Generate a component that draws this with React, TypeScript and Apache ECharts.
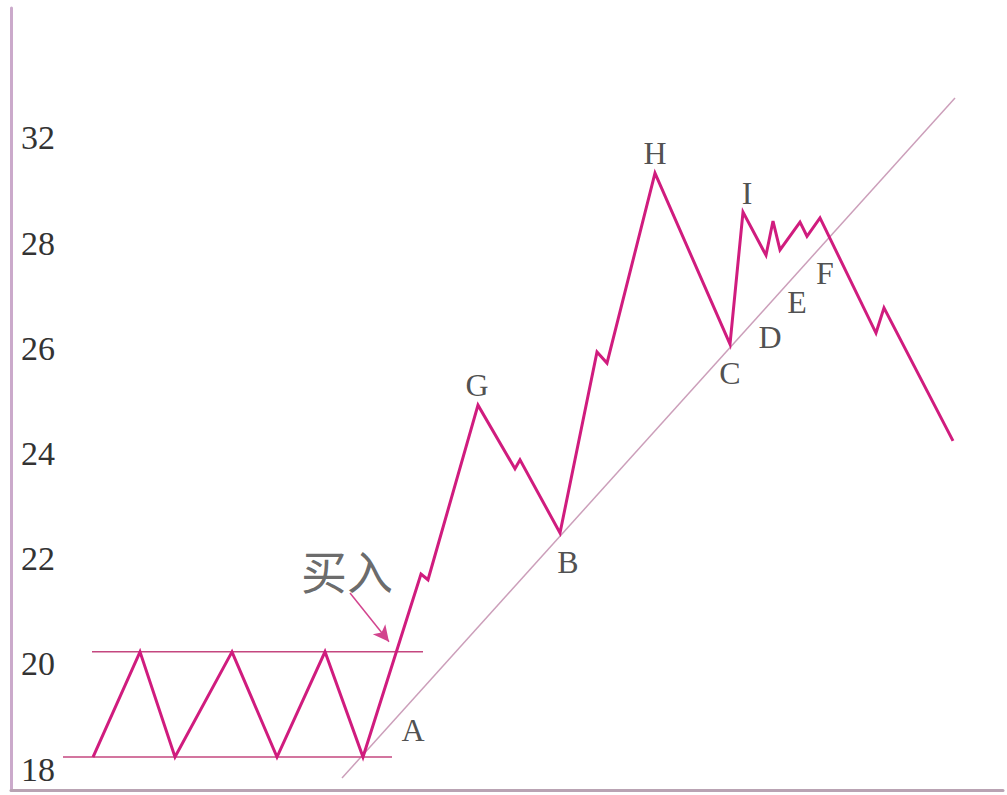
import React, { useEffect, useRef } from "react";
import * as echarts from "echarts";

// price path (x = time index, y = price)
const priceX = [8.2, 12.9, 16.4, 22.1, 26.6, 31.4, 35.2, 41.0, 41.7, 46.7, 50.4, 50.9, 54.9, 58.6, 59.6, 64.4, 71.9, 73.2, 75.5, 76.2, 76.9, 78.9, 79.6, 80.9, 86.5, 87.3, 94.2];
const priceY = [18.0, 20.0, 18.0, 20.0, 18.0, 20.0, 18.0, 21.48, 21.37, 24.69, 23.48, 23.65, 22.26, 25.7, 25.49, 29.1, 25.85, 28.36, 27.54, 28.19, 27.64, 28.17, 27.9, 28.25, 26.06, 26.54, 24.01];

// support / resistance lines
const upperLineX = [8.1, 41.2];
const upperLineY = [20, 20];
const lowerLineX = [5.2, 38.1];
const lowerLineY = [18, 18];
const trendLineX = [33.1, 94.4];
const trendLineY = [17.6, 30.53];

// point labels
const pointNames = ["A", "G", "B", "H", "I", "C", "D", "E", "F"];
const pointX = [40.2, 46.6, 55.7, 64.4, 73.6, 71.9, 75.9, 78.6, 81.4];
const pointY = [18.51, 25.07, 21.71, 29.48, 28.72, 25.3, 25.98, 26.65, 27.2];

// buy annotation
const buyText = "买入";
const buyPos = [33.6, 21.57];
const arrowFrom = [33.9, 21.12];
const arrowTo = [37.8, 20.19];

// y tick labels
const yTickValues = [18, 20, 22, 24, 26, 28, 30];
const yTickLabels = ["18", "20", "22", "24", "26", "28", "32"];

const zip = (xs: number[], ys: number[]) => xs.map((x, i) => [x, ys[i]]);

export default function App() {
  const ref = useRef<HTMLDivElement>(null);
  useEffect(() => {
    document.body.style.margin = "0";
    const chart = echarts.init(ref.current!, null, { renderer: "svg" });
    chart.setOption({
      animation: false,
      backgroundColor: "#ffffff",
      grid: { left: 11, right: 4, top: 8, bottom: 5, containLabel: false },
      xAxis: {
        type: "value",
        min: 0,
        max: 99.2,
        axisLine: { show: true, lineStyle: { color: "#b9a3b3", width: 3 } },
        axisTick: { show: false },
        axisLabel: { show: false },
        splitLine: { show: false },
      },
      yAxis: {
        type: "value",
        min: 17.373,
        max: 32.24,
        axisLine: { show: true, lineStyle: { color: "#cbaacb", width: 3 } },
        axisTick: { show: false },
        splitLine: { show: false },
        axisLabel: {
          show: true,
          inside: true,
          margin: 10,
          customValues: yTickValues,
          formatter: (v: number) => {
            const i = yTickValues.indexOf(Math.round(v));
            return i >= 0 ? yTickLabels[i] : "";
          },
          fontFamily: "Liberation Serif",
          fontSize: 34,
          color: "#333333",
          verticalAlign: "top",
          lineHeight: 24,
        },
      },
      series: [
        {
          type: "line",
          data: zip(trendLineX, trendLineY),
          symbol: "none",
          lineStyle: { color: "#cc9fba", width: 1.5 },
          silent: true,
        },
        {
          type: "line",
          data: zip(upperLineX, upperLineY),
          symbol: "none",
          lineStyle: { color: "#c4477f", width: 1.5 },
          silent: true,
        },
        {
          type: "line",
          data: zip(lowerLineX, lowerLineY),
          symbol: "none",
          lineStyle: { color: "#c4477f", width: 1.5 },
          silent: true,
        },
        {
          type: "line",
          data: zip(priceX, priceY),
          symbol: "none",
          lineStyle: { color: "#d01c7e", width: 3, join: "miter" },
          silent: true,
          markLine: {
            silent: true,
            symbol: ["none", "arrow"],
            symbolSize: [12, 16],
            label: { show: false },
            lineStyle: { color: "#d2448e", width: 1.5, type: "solid" },
            data: [[{ coord: arrowFrom }, { coord: arrowTo }]],
          },
        },
        {
          type: "scatter",
          symbolSize: 0,
          data: pointNames.map((n, i) => ({ name: n, value: [pointX[i], pointY[i]] })),
          label: {
            show: true,
            position: "inside",
            formatter: "{b}",
            fontFamily: "Liberation Serif",
            fontSize: 32,
            color: "#222",
          },
          silent: true,
        },
        {
          type: "scatter",
          symbolSize: 0,
          data: [{ name: buyText, value: buyPos }],
          label: {
            show: true,
            position: "inside",
            formatter: "{b}",
            fontFamily: "Noto Sans CJK SC",
            fontSize: 46,
            color: "#444",
          },
          silent: true,
        },
      ],
    });
    return () => chart.dispose();
  }, []);
  return <div ref={ref} style={{ width: 1007, height: 795 }} />;
}
